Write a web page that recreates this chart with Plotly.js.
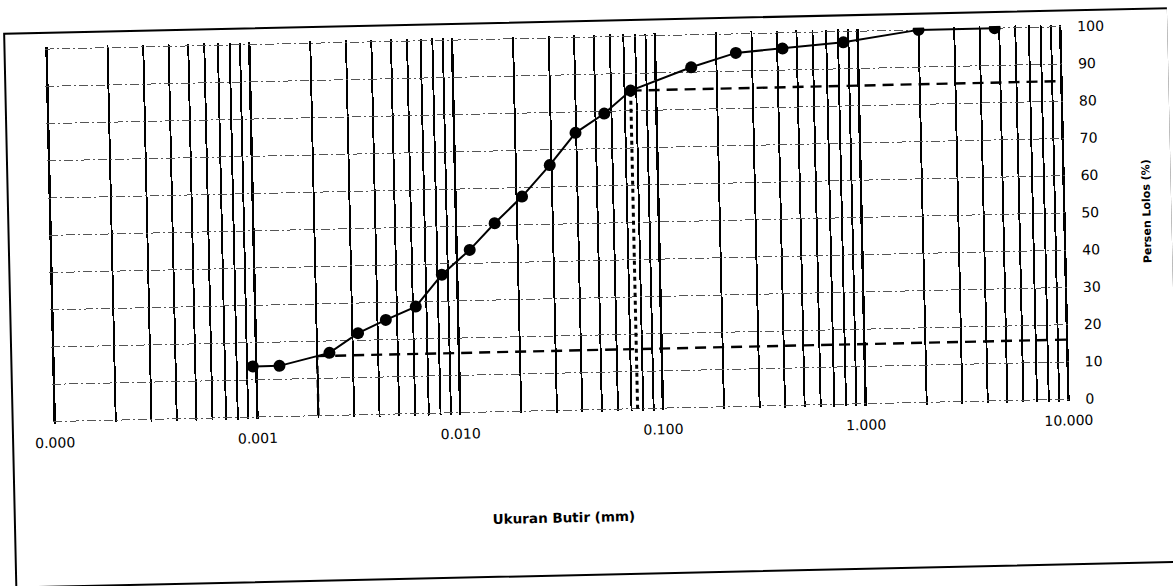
<!DOCTYPE html>
<html>
<head>
<meta charset="utf-8">
<script src="https://cdn.plot.ly/plotly-3.0.1.min.js"></script>
<style>
  html, body { margin: 0; padding: 0; background: #ffffff; overflow: hidden; }
  #chart { width: 1173px; height: 586px; transform: rotate(-1.26deg); transform-origin: 586.5px 293px; }
</style>
</head>
<body>
<div id="chart"></div>
<script>
// Grain size distribution (sieve + hydrometer)
const grainSize = [4.75, 2.0, 0.85, 0.425, 0.25, 0.15, 0.075, 0.0553, 0.0397, 0.0294, 0.0213, 0.0155, 0.0116, 0.0084, 0.0062, 0.0044, 0.0032, 0.0023, 0.0013, 0.00096];
const percentPassing = [100, 100, 97.1, 95.8, 94.9, 91.3, 85.4, 79.4, 74.4, 65.9, 57.6, 50.6, 43.6, 37.1, 28.7, 25.3, 21.9, 16.8, 13.6, 13.6];

// Guide lines
const sieveNo200 = 0.075;
const passingNo200 = 85.4;
const clayLimit = 0.002;
const passingClay = 16.0;
const sizeMax = 10;
const passingMin = 0;

// Axis ticks
const xTickVals = [0.0001, 0.001, 0.01, 0.1, 1, 10];
const xTickText = ["0.000", "0.001", "0.010", "0.100", "1.000", "10.000"];
const yTickVals = [0, 10, 20, 30, 40, 50, 60, 70, 80, 90, 100];
const yTickText = ["0", "10", "20", "30", "40", "50", "60", "70", "80", "90", "100"];

// minor log grid positions (2..9 of each decade)
const xMinorVals = [];
for (let k = -4; k <= 0; k++) {
  for (let m = 2; m <= 9; m++) xMinorVals.push(m * Math.pow(10, k));
}

const tickFont = { family: "DejaVu Sans", size: 14, color: "#000" };

const traces = [
  {
    x: [sieveNo200, sieveNo200], y: [passingMin, passingNo200],
    mode: "lines", line: { color: "#000", width: 3, dash: "4px,4px" },
    hoverinfo: "skip", showlegend: false
  },
  {
    x: [sieveNo200, sizeMax], y: [passingNo200, passingNo200],
    mode: "lines", line: { color: "#000", width: 2.4, dash: "11px,7px" },
    hoverinfo: "skip", showlegend: false
  },
  {
    x: [clayLimit, clayLimit], y: [passingMin, passingClay],
    mode: "lines", line: { color: "#000", width: 2.4, dash: "8px,6px" },
    hoverinfo: "skip", showlegend: false
  },
  {
    x: [clayLimit, sizeMax], y: [passingClay, passingClay],
    mode: "lines", line: { color: "#000", width: 2.4, dash: "11px,7px" },
    hoverinfo: "skip", showlegend: false
  },
  {
    x: grainSize, y: percentPassing,
    mode: "lines+markers",
    line: { color: "#000", width: 2 },
    marker: { color: "#000", size: 12, symbol: "circle" },
    showlegend: false
  }
];

const layout = {
  width: 1173, height: 586,
  margin: { l: 50, r: 105, t: 35, b: 174, pad: 0 },
  paper_bgcolor: "rgba(0,0,0,0)",
  plot_bgcolor: "rgba(0,0,0,0)",
  showlegend: false,
  xaxis: {
    type: "log",
    range: [-4.01, 1.01],
    tickmode: "array", tickvals: xTickVals, ticktext: xTickText,
    ticks: "", showline: false, zeroline: false,
    showgrid: true, gridcolor: "#000", gridwidth: 2.4,
    minor: { tickmode: "array", tickvals: xMinorVals, showgrid: true, gridcolor: "#000", gridwidth: 1.9, ticks: "" },
    tickfont: tickFont,
    ticklabelstandoff: 9,
    title: { text: "Ukuran Butir (mm)", font: { family: "DejaVu Sans", size: 13.5, weight: "bold", color: "#000" }, standoff: 74 }
  },
  yaxis: {
    side: "right",
    range: [-0.6, 100.6],
    tickmode: "array", tickvals: yTickVals, ticktext: yTickText,
    ticks: "", showline: false, zeroline: false,
    showgrid: true, gridcolor: "#555", gridwidth: 1, griddash: "9px,3px,2px,3px",
    tickfont: tickFont,
    ticklabelstandoff: 14,
    title: { text: "Persen Lolos (%)", font: { family: "DejaVu Sans", size: 11, weight: "bold", color: "#000" }, standoff: 35 }
  },
  shapes: [
    {
      type: "rect", xref: "paper", yref: "paper",
      x0: -0.0393, x1: 1.1041, y0: -0.432, y1: 1.037,
      line: { color: "#000", width: 2 }, fillcolor: "rgba(0,0,0,0)", layer: "above"
    }
  ]
};

Plotly.newPlot("chart", traces, layout, { staticPlot: true, displayModeBar: false });
</script>
</body>
</html>
